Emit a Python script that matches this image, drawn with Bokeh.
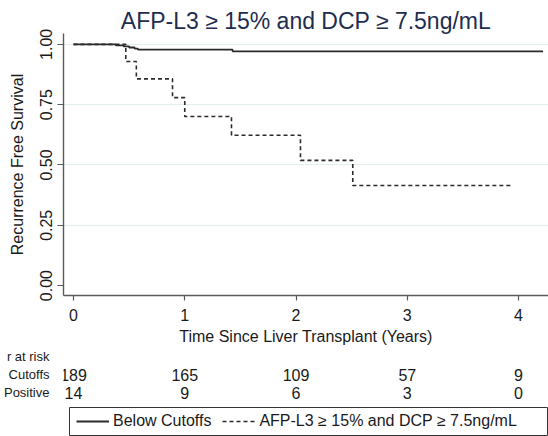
from bokeh.plotting import figure
from bokeh.layouts import column
from bokeh.models import FixedTicker, Legend, LegendItem, Range1d
from bokeh.core.properties import value
from bokeh.embed import file_html
from bokeh.resources import INLINE

# ---------------- data ----------------
title_text = "AFP-L3 \u2265 15% and DCP \u2265 7.5ng/mL"
x_label = "Time Since Liver Transplant (Years)"
y_label = "Recurrence Free Survival"

below_time = [0, 0.38, 0.45, 0.50, 0.55, 0.58, 1.43, 4.22]
below_surv = [1.0, 0.996, 0.992, 0.987, 0.982, 0.978, 0.971, 0.971]

pos_time = [0, 0.47, 0.565, 0.89, 1.0, 1.42, 2.04, 2.51, 3.93]
pos_surv = [1.0, 0.929, 0.857, 0.779, 0.701, 0.623, 0.519, 0.415, 0.415]

x_ticks = [0, 1, 2, 3, 4]
x_tick_labels = ["0", "1", "2", "3", "4"]
y_ticks = [0, 0.25, 0.5, 0.75, 1.0]
y_tick_labels = ["0.00", "0.25", "0.50", "0.75", "1.00"]
grid_ticks = [0.25, 0.5, 0.75, 1.0]

risk_times = [0, 1, 2, 3, 4]
risk_below = [189, 165, 109, 57, 9]
risk_pos = [14, 9, 6, 3, 0]
risk_row_labels = ["r at risk", "Cutoffs", "Positive"]
legend_labels = ["Below Cutoffs", "AFP-L3 \u2265 15% and DCP \u2265 7.5ng/mL"]

# ---------------- style ----------------
FONT = "Liberation Sans"
TXT = "#1a1a1a"
AX = "#5a5a5a"
LINE = "#2b2b2b"
W = 548
H1, H2 = 347, 89
PX_PER_X = 111.5          # pixels per year
X_ZERO_PX = 72            # pixel position of t = 0
FRAME_L = 62

X0 = (FRAME_L - X_ZERO_PX) / PX_PER_X
X1 = (W - X_ZERO_PX) / PX_PER_X
Y0, Y1 = -0.041, 1.045

def xdata(px):
    return (px - X_ZERO_PX) / PX_PER_X

# ---------------- main plot ----------------
p = figure(width=W, height=H1, output_backend="svg", toolbar_location=None,
           x_range=Range1d(X0, X1), y_range=Range1d(Y0, Y1),
           min_border_left=FRAME_L, min_border_right=0, min_border_top=33,
           min_border_bottom=H1 - 298, background_fill_color="white",
           border_fill_color="white", outline_line_color=None)

p.title.text = title_text
p.title.align = "center"
p.title.text_font = FONT
p.title.text_font_size = "23px"
p.title.text_font_style = "normal"
p.title.text_color = "#1e2d4e"
p.title.standoff = 0
p.title.offset = 0

for ax in (p.xaxis[0], p.yaxis[0]):
    ax.axis_line_color = AX
    ax.axis_line_width = 1.4
    ax.major_tick_line_color = AX
    ax.major_tick_line_width = 1.2
    ax.major_tick_in = 0
    ax.major_tick_out = 6
    ax.minor_tick_line_color = None
    ax.major_label_text_font = FONT
    ax.major_label_text_font_size = "16px"
    ax.major_label_text_color = TXT
    ax.axis_label_text_font = FONT
    ax.axis_label_text_font_size = "16px"
    ax.axis_label_text_font_style = "normal"
    ax.axis_label_text_color = TXT

p.xaxis.ticker = FixedTicker(ticks=x_ticks)
p.xaxis.major_label_overrides = {t: l for t, l in zip(x_ticks, x_tick_labels)}
p.xaxis.axis_label = x_label
p.xaxis.major_tick_out = 5
p.xaxis.major_label_standoff = 8
p.xaxis.axis_label_standoff = 4

p.yaxis.ticker = FixedTicker(ticks=y_ticks)
p.yaxis.major_label_overrides = {t: l for t, l in zip(y_ticks, y_tick_labels)}
p.yaxis.axis_label = y_label
p.yaxis.major_label_orientation = "vertical"
p.yaxis.major_label_standoff = 5
p.yaxis.axis_label_standoff = 12

p.xgrid.grid_line_color = None
p.ygrid.ticker = FixedTicker(ticks=grid_ticks)
p.ygrid.grid_line_color = "#e3ecee"
p.ygrid.grid_line_width = 1.2

p.step(below_time, below_surv, mode="after", line_color=LINE, line_width=1.8)
p.step(pos_time, pos_surv, mode="after", line_color=LINE, line_width=1.6,
       line_dash="4 3")

# ---------------- number at risk + legend ----------------
q = figure(width=W, height=H2, output_backend="svg", toolbar_location=None,
           x_range=Range1d(X0, X1), y_range=Range1d(H2, 0),
           x_axis_type=None, min_border_left=FRAME_L, min_border_right=0,
           min_border_top=0, min_border_bottom=0,
           background_fill_color="white", border_fill_color="white",
           outline_line_color=None)
q.grid.visible = False

ROW_Y = [9, 27, 45]   # vertical slots (px from top) of header / rows

# row labels as the tick labels of a bare left axis
q.yaxis.ticker = FixedTicker(ticks=ROW_Y)
q.yaxis.major_label_overrides = {y: l for y, l in zip(ROW_Y, risk_row_labels)}
q.yaxis.axis_line_color = None
q.yaxis.major_tick_line_color = None
q.yaxis.minor_tick_line_color = None
q.yaxis.major_tick_out = 0
q.yaxis.major_tick_in = 0
q.yaxis.major_label_standoff = 14
q.yaxis.major_label_text_font = FONT
q.yaxis.major_label_text_font_size = "13px"
q.yaxis.major_label_text_color = TXT

for ry, vals in zip(ROW_Y[1:], [risk_below, risk_pos]):
    q.text(x=risk_times, y=[ry] * len(vals), text=[str(v) for v in vals],
           text_align="center", text_baseline="middle", text_font=value(FONT),
           text_font_size="16px", text_color=TXT)

# legend frame
q.quad(left=[xdata(68)], right=[xdata(547)], top=[60], bottom=[88],
       fill_alpha=0, line_color="#333333", line_width=1)

nan = float("nan")
l1 = q.line([nan], [nan], line_color=LINE, line_width=1.8)
l2 = q.line([nan], [nan], line_color=LINE, line_width=1.6, line_dash="4 3")
legend = Legend(items=[LegendItem(label=legend_labels[0], renderers=[l1]),
                       LegendItem(label=legend_labels[1], renderers=[l2])],
                orientation="horizontal", location=(70 - FRAME_L, 1),
                border_line_alpha=0, background_fill_alpha=0,
                padding=5, spacing=11, margin=0,
                glyph_width=33, glyph_height=18, label_height=18,
                label_standoff=4, label_text_font=FONT,
                label_text_font_size="16px", label_text_color=TXT)
q.add_layout(legend, "center")

layout = column(p, q, spacing=0)
open("out.html", "w").write(file_html(layout, INLINE))
